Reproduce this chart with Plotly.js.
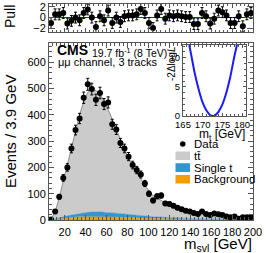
<!DOCTYPE html>
<html>
<head>
<meta charset="utf-8">
<script src="https://cdn.plot.ly/plotly-3.0.1.min.js"></script>
<style>html,body{margin:0;padding:0;background:#fff}#chart{width:266px;height:253px}</style>
</head>
<body>
<div id="chart"></div>
<script>
// m_svl histogram: 50 bins of 3.9 GeV from 5 to 200 GeV
const binLow = 5;
const binWidth = 3.9;
const dataCounts = [2, 32, 88, 160, 200, 272, 342, 386, 465, 516, 498, 457, 483, 441, 447, 364, 344, 293, 272, 241,
  209, 190, 173, 139, 100, 74, 90, 93, 63, 61, 54, 47, 41, 35, 32, 27, 23, 32, 23, 19,
  25, 22, 19, 13, 10, 13, 5, 10, 10, 11];
const ttbar = [3, 26, 77, 138, 194, 259, 320, 375, 423, 456, 468, 461, 447, 423, 391, 358, 319, 284, 247, 215,
  185, 162, 138, 115, 96, 81, 71, 64, 55, 49, 43, 38, 33, 29, 26, 24, 22, 20, 18, 17,
  15, 13, 13, 12, 11, 10, 8, 7, 7, 7];
const singleTop = [0, 1, 3, 5, 7, 9, 11, 13, 15, 16, 17, 18, 18, 17, 17, 16, 15, 14, 13, 12,
  11, 10, 9, 8, 7, 6, 6, 5, 5, 4, 4, 3, 3, 3, 3, 2, 2, 2, 2, 2,
  2, 2, 1, 1, 1, 1, 1, 1, 1, 1];
const background = [1, 3, 5, 7, 9, 10, 11, 12, 12, 13, 13, 13, 13, 12, 12, 11, 11, 10, 10, 9,
  9, 8, 8, 7, 7, 6, 6, 5, 5, 5, 4, 4, 4, 3, 3, 3, 3, 3, 3, 2,
  2, 2, 2, 2, 2, 2, 2, 2, 1, 1];
const pulls = [-1.0, 0.6, 0.6, 0.85, -1.1, -0.6, 0.0, -0.5, 0.85, 1.5, 0.0, -1.75, 0.25, -0.5, 1.3, -1.0, 0.0, -0.8, 0.25, 0.4,
  0.4, 0.6, 1.6, 0.85, -1.0, -1.9, 0.4, 1.6, -0.2, 0.4, 0.25, 0.4, 0.25, 0.1, 0.1, -1.2, -1.2, 0.85, 0.25, -1.1,
  -0.2, 1.3, 1.0, 0.4, -1.0, -1.0, 0.25, -1.6, 0.6, 0.85];
// inset likelihood scan
const scanMass = [166.6, 167, 168, 169, 170, 171, 172, 172.6, 173, 174, 175, 176, 177, 178, 178.7];
const scanNLL = [12.2, 10.8, 7.3, 4.5, 2.3, 0.9, 0.1, 0.0, 0.06, 0.7, 2.0, 4.0, 6.7, 10.1, 12.2];
const xTicks = [20, 40, 60, 80, 100, 120, 140, 160, 180, 200];
const legendLabels = ['Data', 't\u0074\u0304', 'Single t', 'Background'];

const COL = {tt: '#cbcbcb', st: '#3296d2', bg: '#f59c00'};

const x = dataCounts.map((_, i) => binLow + (i + 0.5) * binWidth);

const W = 266, H = 253;
const px = v => v / W;
const py = v => 1 - v / H;

const FONT = 'Liberation Sans, Arial, sans-serif';
const frame = '#555';

const traces = [
  {x: x, y: background, type: 'scatter', mode: 'lines', stackgroup: 'mc', name: 'Background',
   line: {color: COL.bg, width: 0.5}, fillcolor: COL.bg, xaxis: 'x', yaxis: 'y'},
  {x: x, y: singleTop, type: 'scatter', mode: 'lines', stackgroup: 'mc', name: 'Single t',
   line: {color: COL.st, width: 0.5}, fillcolor: COL.st, xaxis: 'x', yaxis: 'y'},
  {x: x, y: ttbar, type: 'scatter', mode: 'lines', stackgroup: 'mc', name: 'ttbar',
   line: {color: '#8c8c8c', width: 1}, fillcolor: COL.tt, xaxis: 'x', yaxis: 'y'},
  {x: x, y: dataCounts, type: 'scatter', mode: 'markers', name: 'Data',
   marker: {color: '#000', size: 6},
   error_y: {type: 'sqrt', visible: true, color: '#000', thickness: 1, width: 1.5},
   xaxis: 'x', yaxis: 'y'},
  {x: x, y: pulls, type: 'scatter', mode: 'markers',
   marker: {color: '#000', size: 6},
   error_y: {type: 'constant', value: 1, visible: true, color: '#000', thickness: 1, width: 1.5},
   xaxis: 'x2', yaxis: 'y2'},
  {x: scanMass, y: scanNLL, type: 'scatter', mode: 'lines', line: {color: '#1a1aff', width: 2, shape: 'spline'},
   xaxis: 'x3', yaxis: 'y3'}
];

const axBase = {showline: true, linecolor: frame, linewidth: 1, mirror: 'ticks', ticks: 'inside', tickcolor: frame,
  showgrid: false, zeroline: false, tickfont: {family: FONT, size: 11, color: '#000'}};

const txt = (text, x, y, size, extra) => Object.assign({text: text, xref: 'paper', yref: 'paper', x: px(x), y: py(y),
  xanchor: 'center', yanchor: 'middle', showarrow: false, font: {family: FONT, size: size, color: '#000'}}, extra || {});

// manual legend (swatches + labels)
const legRows = [144, 155.5, 167.5, 179];
const legShapes = [
  {type: 'circle', xref: 'paper', yref: 'paper', x0: px(180), x1: px(185.5), y0: py(146.8), y1: py(141.3),
   fillcolor: '#000', line: {width: 0}},
  {type: 'rect', xref: 'paper', yref: 'paper', x0: px(175.5), x1: px(190), y0: py(160), y1: py(151.5), fillcolor: COL.tt, line: {width: 0}},
  {type: 'rect', xref: 'paper', yref: 'paper', x0: px(175.5), x1: px(190), y0: py(172), y1: py(163.2), fillcolor: COL.st, line: {width: 0}},
  {type: 'rect', xref: 'paper', yref: 'paper', x0: px(175.5), x1: px(190), y0: py(183.5), y1: py(175), fillcolor: COL.bg, line: {width: 0}}
];
const legAnn = legendLabels.map((t, i) => txt(t, 192, legRows[i], 11.5, {xanchor: 'left'}));

const layout = {
  width: W, height: H, margin: {l: 0, r: 0, t: 0, b: 0},
  paper_bgcolor: '#fff', plot_bgcolor: '#fff',
  showlegend: false,
  xaxis: Object.assign({}, axBase, {domain: [px(49), px(253)], range: [5, 200], anchor: 'y',
    tickvals: xTicks, ticklen: 5, ticklabelstandoff: 2, minor: {ticks: 'inside', ticklen: 3, dtick: 4, tick0: 0, tickcolor: frame}}),
  yaxis: Object.assign({}, axBase, {domain: [py(220), py(42.5)], range: [0, 675], anchor: 'x',
    dtick: 100, ticklen: 5, minor: {ticks: 'inside', ticklen: 3, dtick: 20, tickcolor: frame}}),
  xaxis2: Object.assign({}, axBase, {domain: [px(49), px(253)], range: [5, 200], anchor: 'y2',
    tickvals: xTicks, showticklabels: false, ticklen: 4, minor: {ticks: 'inside', ticklen: 2, dtick: 4, tick0: 0, tickcolor: frame}}),
  yaxis2: Object.assign({}, axBase, {domain: [py(31.7), py(3.5)], range: [-2.6, 2.6], anchor: 'x2',
    tickvals: [-2, 0, 2], ticktext: ['\u22122', '0', '2'], ticklen: 6,
    zeroline: true, zerolinecolor: '#2222ee', zerolinewidth: 1}),
  xaxis3: Object.assign({}, axBase, {domain: [px(183), px(246)], range: [165, 181], anchor: 'y3',
    tickvals: [165, 170, 175, 180], ticklen: 3, tickfont: {family: FONT, size: 9.5, color: '#000'},
    minor: {ticks: 'inside', ticklen: 2, dtick: 1, tickcolor: frame}}),
  yaxis3: Object.assign({}, axBase, {domain: [py(116), py(45)], range: [0, 12.2], anchor: 'x3',
    tickvals: [0, 5, 10], ticklen: 3, tickfont: {family: FONT, size: 9.5, color: '#000'},
    minor: {ticks: 'inside', ticklen: 2, dtick: 1, tickcolor: frame}}),
  shapes: legShapes,
  annotations: [
    txt('Pull', 10, 17, 14, {textangle: -90}),
    txt('Events / 3.9 GeV', 10, 132, 15, {textangle: -90}),
    txt('m<sub>svl</sub> [GeV]', 254, 244, 15, {xanchor: 'right'}),
    txt('<b>CMS</b>', 55, 50, 14, {xanchor: 'left'}),
    txt('19.7 fb<sup>-1</sup> (8 TeV)', 90, 52, 10.5, {xanchor: 'left'}),
    txt('\u03bc\u03bc channel, 3 tracks', 56, 62, 11, {xanchor: 'left'}),
    txt('-2\u0394log<i>L</i>', 172, 64, 10, {textangle: -90}),
    txt('m<sub>t</sub> [GeV]', 247, 135, 12, {xanchor: 'right'})
  ].concat(legAnn)
};

Plotly.newPlot('chart', traces, layout, {staticPlot: true, displayModeBar: false});
</script>
</body>
</html>
